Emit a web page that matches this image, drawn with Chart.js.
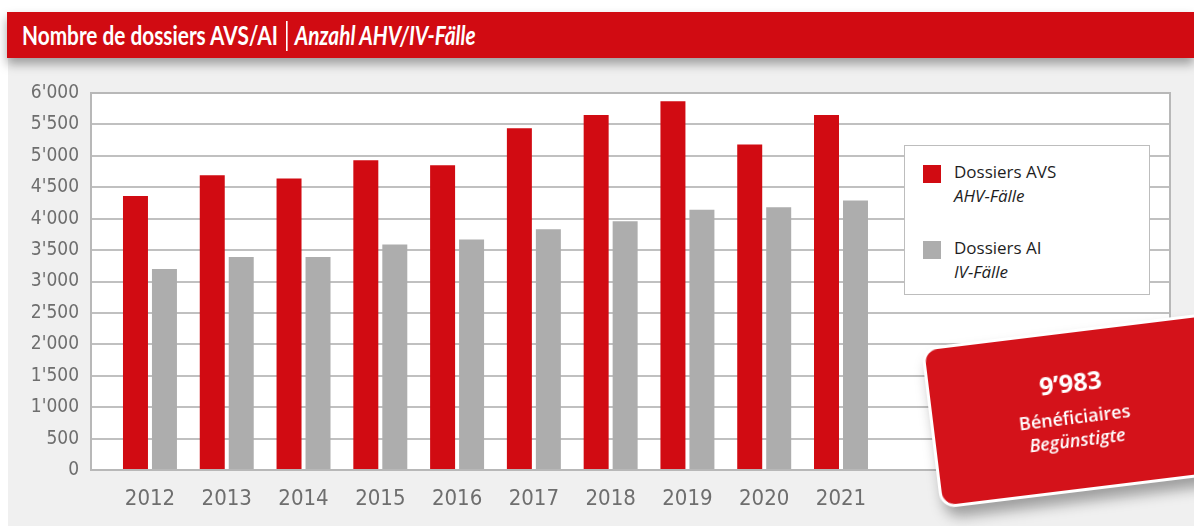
<!DOCTYPE html>
<html><head><meta charset="utf-8">
<script src="https://cdn.jsdelivr.net/npm/chart.js@4.4.1/dist/chart.umd.min.js"></script>
<style>
html,body{margin:0;padding:0;width:1194px;height:526px;overflow:hidden;background:#fff;}
#panel{position:absolute;left:8px;top:58px;width:1186px;height:468px;background:#f0f0f0;}
#titlebar{position:absolute;left:7px;top:12px;width:1187px;height:46px;background:#d10b12;box-shadow:0 6px 10px rgba(0,0,0,0.35);z-index:2;}
#title{position:absolute;left:15px;top:0px;height:46px;line-height:46px;color:#fff;font-family:Lato,sans-serif;font-size:26px;font-weight:700;white-space:nowrap;transform:scaleX(0.8);transform-origin:0 50%;}
#title .sep{display:inline-block;width:0;height:30px;border-left:2px solid #fff;margin:0 9px 0 10px;vertical-align:middle;position:relative;top:-2px;}
#title i{font-style:italic;}
#wrap{position:absolute;left:0;top:0;width:1194px;height:526px;z-index:3;}
#legend{position:absolute;left:904px;top:145px;width:244px;height:148px;background:#fff;border:1px solid #bdbdbd;z-index:4;font-family:"Open Sans",sans-serif;color:#1e1e1e;font-size:17px;}
.item{position:absolute;left:18px;}
.sw{position:absolute;left:0;top:5px;width:18px;height:18px;}
.txt{position:absolute;left:31px;top:0;line-height:24px;white-space:nowrap;}
.txt i{font-style:italic;}
#badge{position:absolute;left:921px;top:348px;width:300px;height:156px;background:#d4121a;border:3px solid #fff;border-radius:16px;transform-origin:0 0;transform:rotate(-7deg);box-shadow:4px 10px 14px rgba(0,0,0,0.35);z-index:5;color:#fff;font-family:"Open Sans",sans-serif;text-align:center;}
#badge .num{position:absolute;left:0;width:282px;top:32px;font-size:25px;font-weight:700;}
#badge .l1{position:absolute;left:0;width:282px;top:72px;font-size:18px;font-weight:600;}
#badge .l2{position:absolute;left:0;width:282px;top:95px;font-size:18px;font-weight:600;font-style:italic;}
</style></head>
<body>
<div id="panel"></div>
<div id="titlebar"><div id="title">Nombre de dossiers AVS/AI<span class="sep"></span><i>Anzahl AHV/IV-Fälle</i></div></div>
<div id="wrap"><canvas id="c" width="1194" height="526"></canvas></div>
<div id="legend">
  <div class="item" style="top:14px"><div class="sw" style="background:#d10b12"></div><div class="txt">Dossiers AVS<br><i>AHV-Fälle</i></div></div>
  <div class="item" style="top:90px"><div class="sw" style="background:#adadad"></div><div class="txt">Dossiers AI<br><i>IV-Fälle</i></div></div>
</div>
<div id="badge"><div class="num">9’983</div><div class="l1">Bénéficiaires</div><div class="l2">Begünstigte</div></div>
<script>
const years = [2012, 2013, 2014, 2015, 2016, 2017, 2018, 2019, 2020, 2021];
const avsValues = [4360, 4690, 4640, 4930, 4850, 5440, 5650, 5870, 5180, 5650];
const aiValues = [3200, 3390, 3390, 3590, 3670, 3830, 3960, 4140, 4180, 4290];
const yTickValues = [0, 500, 1000, 1500, 2000, 2500, 3000, 3500, 4000, 4500, 5000, 5500, 6000];
const yTickLabels = ["0", "500", "1'000", "1'500", "2'000", "2'500", "3'000", "3'500", "4'000", "4'500", "5'000", "5'500", "6'000"];
const seriesNames = ["Dossiers AVS", "Dossiers AI"];

const frame = {
  id: 'frame',
  beforeDraw(chart) {
    const a = chart.chartArea, ctx = chart.ctx;
    ctx.save();
    ctx.fillStyle = '#ffffff';
    ctx.fillRect(a.left, a.top, a.right - a.left, a.bottom - a.top);
    ctx.restore();
  },
  beforeDatasetsDraw(chart) {
    const a = chart.chartArea, ctx = chart.ctx;
    ctx.save();
    ctx.strokeStyle = '#b8b8b8';
    ctx.lineWidth = 2;
    ctx.strokeRect(a.left, a.top, a.right - a.left, a.bottom - a.top);
    ctx.restore();
  }
};

new Chart(document.getElementById('c'), {
  type: 'bar',
  data: {
    datasets: [
      { label: seriesNames[0], data: years.map((y, i) => ({ x: y, y: avsValues[i] })), backgroundColor: '#d10b12', categoryPercentage: 0.755, barPercentage: 0.862 },
      { label: seriesNames[1], data: years.map((y, i) => ({ x: y, y: aiValues[i] })), backgroundColor: '#adadad', categoryPercentage: 0.755, barPercentage: 0.862 }
    ]
  },
  options: {
    responsive: false,
    animation: false,
    layout: { padding: { left: 0, top: 93, right: 24, bottom: 0 } },
    plugins: { legend: { display: false }, tooltip: { enabled: false } },
    scales: {
      x: {
        type: 'linear',
        offset: false,
        min: 2011.232,
        max: 2025.285,
        afterBuildTicks: s => { s.ticks = years.map(v => ({ value: v })); },
        afterFit: s => { s.height = 56; },
        grid: { display: false, drawTicks: false },
        border: { display: false },
        ticks: { autoSkip: false, maxRotation: 0, padding: 16, color: '#6e6e6e', font: { family: '"DejaVu Sans Condensed", sans-serif', size: 22 }, callback: v => String(v) }
      },
      y: {
        min: 0,
        max: 6000,
        afterBuildTicks: s => { s.ticks = yTickValues.map(v => ({ value: v })); },
        afterFit: s => { s.width = 91; },
        grid: { color: '#c0c0c0', lineWidth: 2, drawTicks: false },
        border: { display: false },
        ticks: { padding: 12, color: '#6e6e6e', font: { family: '"DejaVu Sans Condensed", "DejaVu Sans", sans-serif', size: 19 }, callback: (v, i) => yTickLabels[i] }
      }
    }
  },
  plugins: [frame]
});
</script>
</body></html>
